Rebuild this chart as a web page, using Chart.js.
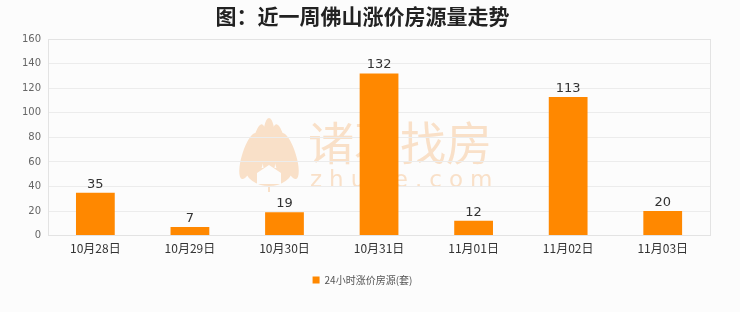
<!DOCTYPE html>
<html>
<head>
<meta charset="utf-8">
<script src="https://cdn.jsdelivr.net/npm/chart.js@4"></script>
<style>
  html, body { margin: 0; padding: 0; background: #fcfcfc; }
  #wrap { width: 740px; height: 312px; }
</style>
</head>
<body>
<div id="wrap"><canvas id="myChart"></canvas></div>
<script>
const labels = ['10月28日', '10月29日', '10月30日', '10月31日', '11月01日', '11月02日', '11月03日'];
const values = [35, 7, 19, 132, 12, 113, 20];
const yTicks = [0, 20, 40, 60, 80, 100, 120, 140, 160];

// numbers above bars
const barLabels = {
  id: 'barLabels',
  afterDatasetsDraw(chart) {
    const ctx = chart.ctx;
    const meta = chart.getDatasetMeta(0);
    ctx.save();
    ctx.font = '13px "DejaVu Sans", sans-serif';
    ctx.fillStyle = '#333';
    ctx.textAlign = 'center';
    ctx.textBaseline = 'bottom';
    meta.data.forEach((bar, i) => {
      ctx.fillText(values[i], bar.x, bar.y - 2);
    });
    ctx.restore();
  }
};

// faint watermark under the grid
const watermark = {
  id: 'watermark',
  beforeDraw(chart) {
    const ctx = chart.ctx;
    const wm = '#f9e0c8';
    ctx.save();
    ctx.fillStyle = wm;
    ctx.font = '46px "Noto Sans CJK SC", sans-serif';
    ctx.textBaseline = 'middle';
    ctx.textAlign = 'left';
    ctx.fillText('诸葛找房', 308, 143);
    ctx.font = '23px "DejaVu Sans", sans-serif';
    ctx.letterSpacing = '7px';
    ctx.fillText('zhuge.com', 310, 181);
    // lotus logo
    const cx = 269;
    [[-20, 0.3, 24], [-11, 0.14, 28], [0, 0, 31], [11, -0.14, 28], [20, -0.3, 24]].forEach(([dx, rot, ry]) => {
      ctx.beginPath();
      ctx.ellipse(cx + dx, 156 - ry + 24, 7, ry, rot, 0, Math.PI * 2);
      ctx.fill();
    });
    ctx.beginPath();
    ctx.ellipse(cx, 168, 24, 18, 0, 0, Math.PI);
    ctx.fill();
    ctx.fillStyle = '#fcfcfc';
    ctx.beginPath();
    ctx.moveTo(cx, 165); ctx.lineTo(cx + 12, 173); ctx.lineTo(cx + 12, 184);
    ctx.lineTo(cx - 12, 184); ctx.lineTo(cx - 12, 173); ctx.closePath();
    ctx.fill();
    ctx.fillStyle = wm;
    ctx.fillRect(cx - 1, 184, 2, 8);
    ctx.restore();
  }
};

// plot box border
const plotBox = {
  id: 'plotBox',
  beforeDatasetsDraw(chart) {
    const a = chart.chartArea;
    const ctx = chart.ctx;
    ctx.save();
    ctx.strokeStyle = '#e3e3e3';
    ctx.lineWidth = 1;
    ctx.strokeRect(Math.round(a.left) + 0.5, Math.round(a.top) + 0.5, Math.round(a.right - a.left), Math.round(a.bottom - a.top));
    ctx.restore();
  }
};

const ctx = document.querySelector('#myChart').getContext('2d');
new Chart(ctx, {
  type: 'bar',
  data: {
    labels,
    datasets: [{
      label: '24小时涨价房源(套)',
      data: values,
      backgroundColor: 'rgb(255, 136, 0)',
      barPercentage: 0.41,
      categoryPercentage: 1
    }]
  },
  options: {
    responsive: true,
    maintainAspectRatio: false,
    animation: false,
    layout: { padding: { left: 15, right: 30, top: 0, bottom: 17 } },
    plugins: {
      title: {
        display: true,
        text: '图：近一周佛山涨价房源量走势',
        color: '#222',
        font: { size: 21, weight: 'bold', family: '"Noto Sans CJK SC", sans-serif' },
        padding: { top: 3, bottom: 11 }
      },
      legend: {
        position: 'bottom',
        labels: {
          boxWidth: 7,
          boxHeight: 7,
          color: '#555',
          padding: 21,
          font: { size: 10, family: '"Noto Sans CJK SC", sans-serif' }
        }
      },
      tooltip: { enabled: false }
    },
    scales: {
      x: {
        grid: { display: false },
        border: { color: '#e3e3e3' },
        ticks: { color: '#333', font: { size: 12, family: '"Noto Sans CJK SC", sans-serif' }, padding: -2 }
      },
      y: {
        min: 0,
        max: 160,
        afterBuildTicks(axis) { axis.ticks = yTicks.map(v => ({ value: v })); },
        grid: { color: '#ececec', drawTicks: false },
        border: { display: false },
        ticks: { color: '#666', font: { size: 10, family: '"DejaVu Sans", sans-serif' }, padding: 7 }
      }
    }
  },
  plugins: [watermark, plotBox, barLabels]
});
</script>
</body>
</html>
